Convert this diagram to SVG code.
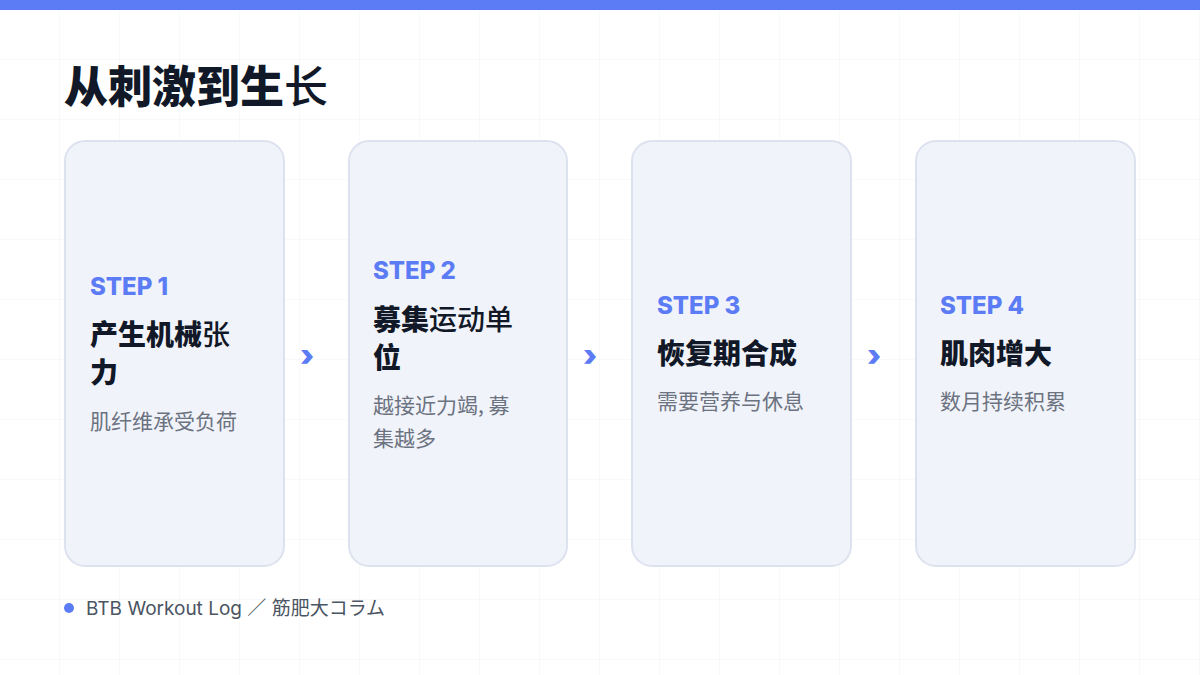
<svg xmlns="http://www.w3.org/2000/svg" width="1200" height="675" viewBox="0 0 1200 675">
<defs>
<pattern id="grid" width="60" height="60" patternUnits="userSpaceOnUse"><path d="M60 0V60M0 60H60" fill="none" stroke="#f1f2f5" stroke-width="1"/></pattern>
<style>
.card{fill:#f1f3fa;stroke:#dde2ef;stroke-width:2}
.step{font-family:"Inter","Noto Sans",sans-serif;font-weight:800;font-size:24px;fill:#5b7cf5}
.t{font-family:"Noto Sans CJK SC",sans-serif;font-weight:900;font-size:28px;fill:#111827}
.s{font-family:"Noto Sans CJK SC",sans-serif;font-size:21px;fill:#6b7280}
.arr{font-family:"Inter",sans-serif;font-weight:900;font-size:30px;fill:#5b7cf5}
.n{font-weight:500}
</style>
</defs>
<rect width="1200" height="675" fill="#fff"/>
<rect width="1200" height="675" fill="url(#grid)"/>
<rect width="1200" height="10" fill="#5b7cf5"/>
<text x="64" y="103" font-family="Noto Sans CJK SC,sans-serif" font-weight="900" font-size="44" fill="#111827">从刺激到生<tspan font-weight="500">长</tspan></text>
<g id="card1"><rect class="card" x="65" y="141" width="219" height="425" rx="20"/>
<text class="step" x="90" y="295">STEP 1</text>
<text class="t" x="90" y="345">产生机械<tspan class="n">张</tspan></text><text class="t" x="90" y="383">力</text>
<text class="s" x="90" y="429">肌纤维承受负荷</text></g>
<g id="card2"><rect class="card" x="349" y="141" width="218" height="425" rx="20"/>
<text class="step" x="373" y="279">STEP 2</text>
<text class="t" x="373" y="330">募集<tspan class="n">运动单</tspan></text><text class="t" x="373" y="368">位</text>
<text class="s" x="373" y="413">越接近力竭, 募</text><text class="s" x="373" y="446">集越多</text></g>
<g id="card3"><rect class="card" x="632" y="141" width="219" height="425" rx="20"/>
<text class="step" x="657" y="314">STEP 3</text>
<text class="t" x="657" y="364">恢复期合成</text>
<text class="s" x="657" y="409">需要营养与休息</text></g>
<g id="card4"><rect class="card" x="916" y="141" width="219" height="425" rx="20"/>
<text class="step" x="940" y="314">STEP 4</text>
<text class="t" x="940" y="364">肌肉增大</text>
<text class="s" x="940" y="409">数月持续积累</text></g>
<g id="connectors">
<text class="arr" x="307" y="366" text-anchor="middle">›</text>
<text class="arr" x="590" y="366" text-anchor="middle">›</text>
<text class="arr" x="874" y="366" text-anchor="middle">›</text>
</g>
<circle cx="69" cy="608" r="5" fill="#5b7cf5"/>
<text x="86" y="615" font-family="Inter,Noto Sans CJK JP,sans-serif" font-size="19" fill="#4b5563">BTB Workout Log ／ 筋肥大コラム</text>
</svg>
